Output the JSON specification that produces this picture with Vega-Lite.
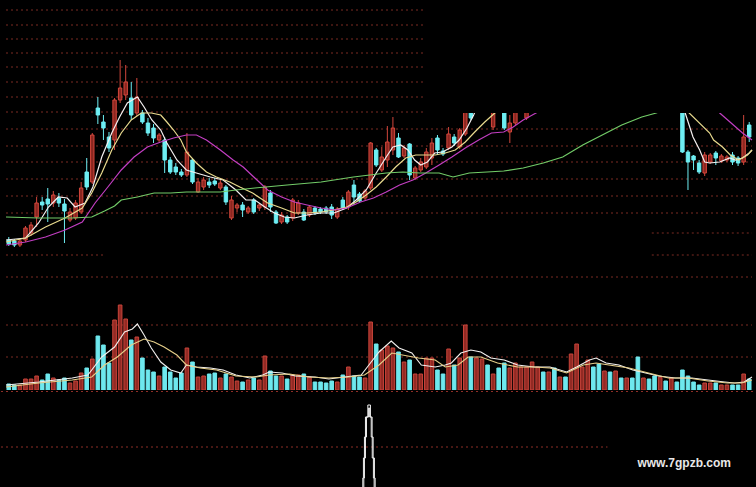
{
  "$schema": "https://vega.github.io/schema/vega-lite/v6.json",
  "background": "#000000",
  "padding": 0,
  "spacing": 0,
  "config": {"view": {"stroke": null}, "axis": {"disable": true}, "legend": {"disable": true}, "concat": {"spacing": 0}},
  "resolve": {"scale": {"x": "independent", "y": "independent", "color": "independent"}},
  "datasets": {
    "days": [
      {"t":0,"o":6.0,"h":6.3,"l":5.4,"c":5.6,"v":6},{"t":1,"o":5.9,"h":6.1,"l":5.3,"c":5.5,"v":5},{"t":2,"o":5.5,"h":6.1,"l":5.3,"c":5.9,"v":5},
      {"t":3,"o":6.0,"h":7.4,"l":5.8,"c":7.2,"v":11},{"t":4,"o":6.7,"h":7.8,"l":6.4,"c":7.5,"v":11},{"t":5,"o":8.3,"h":10.3,"l":7.3,"c":9.7,"v":14},
      {"t":6,"o":9.8,"h":10.3,"l":9.0,"c":9.5,"v":10},{"t":7,"o":10.1,"h":11.2,"l":7.8,"c":9.6,"v":16},{"t":8,"o":9.7,"h":10.9,"l":9.3,"c":10.5,"v":12},
      {"t":9,"o":10.2,"h":10.7,"l":9.3,"c":9.7,"v":10},{"t":10,"o":9.6,"h":10.1,"l":5.7,"c":8.9,"v":12},{"t":11,"o":8.0,"h":9.2,"l":7.8,"c":8.8,"v":7},
      {"t":12,"o":8.2,"h":10.0,"l":8.0,"c":9.7,"v":9},{"t":13,"o":8.8,"h":11.8,"l":8.6,"c":11.2,"v":17},{"t":14,"o":12.8,"h":14.2,"l":11.0,"c":11.3,"v":22},
      {"t":15,"o":11.8,"h":16.7,"l":11.6,"c":16.5,"v":31},{"t":16,"o":19.2,"h":20.3,"l":17.6,"c":18.5,"v":54},{"t":17,"o":17.8,"h":18.5,"l":16.0,"c":17.2,"v":45},
      {"t":18,"o":16.3,"h":16.8,"l":14.8,"c":15.2,"v":27},{"t":19,"o":16.0,"h":20.2,"l":15.0,"c":20.0,"v":70},{"t":20,"o":20.0,"h":24.0,"l":19.7,"c":21.2,"v":85},
      {"t":21,"o":20.5,"h":23.5,"l":20.0,"c":21.8,"v":71},{"t":22,"o":20.2,"h":21.8,"l":18.0,"c":18.5,"v":50},{"t":23,"o":18.7,"h":22.2,"l":18.4,"c":20.3,"v":53},
      {"t":24,"o":18.7,"h":19.0,"l":17.6,"c":17.8,"v":32},{"t":25,"o":17.7,"h":18.2,"l":16.4,"c":16.7,"v":20},{"t":26,"o":17.2,"h":17.6,"l":15.7,"c":16.2,"v":18},
      {"t":27,"o":16.0,"h":16.7,"l":15.8,"c":16.5,"v":14},{"t":28,"o":16.0,"h":16.3,"l":12.7,"c":14.0,"v":23},{"t":29,"o":14.0,"h":14.3,"l":12.6,"c":12.8,"v":18},
      {"t":30,"o":13.3,"h":13.7,"l":12.5,"c":12.8,"v":12},{"t":31,"o":12.8,"h":13.1,"l":12.3,"c":12.5,"v":17},{"t":32,"o":12.5,"h":16.7,"l":12.3,"c":14.8,"v":42},
      {"t":33,"o":14.0,"h":14.2,"l":11.6,"c":11.8,"v":28},{"t":34,"o":10.8,"h":12.2,"l":10.7,"c":11.8,"v":13},{"t":35,"o":11.3,"h":12.3,"l":11.0,"c":12.0,"v":14},
      {"t":36,"o":11.8,"h":12.2,"l":11.2,"c":11.5,"v":16},{"t":37,"o":11.9,"h":12.2,"l":11.4,"c":11.6,"v":17},{"t":38,"o":11.2,"h":12.0,"l":11.0,"c":11.7,"v":12},
      {"t":39,"o":11.3,"h":11.5,"l":9.5,"c":9.8,"v":16},{"t":40,"o":8.2,"h":10.4,"l":8.0,"c":10.0,"v":13},{"t":41,"o":9.2,"h":9.7,"l":8.8,"c":9.5,"v":9},
      {"t":42,"o":9.5,"h":9.8,"l":8.3,"c":9.0,"v":8},{"t":43,"o":8.8,"h":9.4,"l":8.6,"c":9.2,"v":10},{"t":44,"o":10.0,"h":10.2,"l":8.6,"c":8.8,"v":12},
      {"t":45,"o":9.2,"h":9.7,"l":8.9,"c":9.5,"v":10},{"t":46,"o":9.3,"h":11.5,"l":9.0,"c":11.3,"v":34},{"t":47,"o":10.7,"h":11.0,"l":8.8,"c":9.3,"v":19},
      {"t":48,"o":8.8,"h":9.0,"l":7.6,"c":7.7,"v":14},{"t":49,"o":7.8,"h":8.8,"l":7.6,"c":8.5,"v":14},{"t":50,"o":8.3,"h":8.5,"l":7.6,"c":7.8,"v":11},
      {"t":51,"o":8.2,"h":10.2,"l":7.9,"c":10.0,"v":15},{"t":52,"o":8.7,"h":10.0,"l":8.5,"c":9.7,"v":15},{"t":53,"o":8.8,"h":9.1,"l":7.9,"c":8.0,"v":16},
      {"t":54,"o":8.5,"h":9.5,"l":8.3,"c":9.3,"v":13},{"t":55,"o":9.2,"h":9.4,"l":8.5,"c":8.7,"v":8},{"t":56,"o":9.1,"h":9.3,"l":8.6,"c":8.8,"v":8},
      {"t":57,"o":9.2,"h":9.4,"l":8.6,"c":8.8,"v":7},{"t":58,"o":9.3,"h":9.6,"l":8.1,"c":8.5,"v":9},{"t":59,"o":8.3,"h":9.3,"l":8.1,"c":9.1,"v":8},
      {"t":60,"o":10.0,"h":10.3,"l":9.0,"c":9.2,"v":15},{"t":61,"o":9.3,"h":11.0,"l":9.0,"c":10.8,"v":23},{"t":62,"o":11.5,"h":12.0,"l":9.5,"c":10.3,"v":14},
      {"t":63,"o":10.6,"h":10.8,"l":9.7,"c":9.9,"v":13},{"t":64,"o":10.2,"h":11.1,"l":10.0,"c":10.9,"v":12},{"t":65,"o":11.2,"h":15.8,"l":11.0,"c":15.7,"v":68},
      {"t":66,"o":15.0,"h":15.2,"l":13.3,"c":13.5,"v":46},{"t":67,"o":13.0,"h":15.3,"l":12.8,"c":14.3,"v":40},{"t":68,"o":14.0,"h":17.4,"l":13.3,"c":15.8,"v":44},
      {"t":69,"o":15.0,"h":18.3,"l":14.5,"c":17.2,"v":42},{"t":70,"o":16.2,"h":16.7,"l":14.2,"c":14.3,"v":38},{"t":71,"o":14.4,"h":15.5,"l":14.2,"c":15.2,"v":28},
      {"t":72,"o":15.6,"h":15.7,"l":12.0,"c":12.5,"v":30},{"t":73,"o":12.2,"h":13.4,"l":12.0,"c":13.2,"v":16},{"t":74,"o":13.0,"h":14.2,"l":12.8,"c":13.8,"v":16},
      {"t":75,"o":13.3,"h":15.2,"l":13.1,"c":14.8,"v":32},{"t":76,"o":14.2,"h":16.2,"l":13.5,"c":15.7,"v":32},{"t":77,"o":16.2,"h":16.5,"l":14.5,"c":15.0,"v":20},
      {"t":78,"o":14.9,"h":15.2,"l":14.4,"c":14.6,"v":16},{"t":79,"o":15.2,"h":17.3,"l":15.0,"c":16.6,"v":41},{"t":80,"o":16.3,"h":16.6,"l":15.4,"c":15.7,"v":25},
      {"t":81,"o":15.3,"h":17.2,"l":15.1,"c":17.0,"v":32},{"t":82,"o":16.6,"h":20.2,"l":16.4,"c":19.5,"v":65},{"t":83,"o":19.5,"h":20.0,"l":18.0,"c":18.2,"v":33},
      {"t":84,"o":19.0,"h":20.8,"l":18.8,"c":20.5,"v":32},{"t":85,"o":20.0,"h":21.5,"l":19.6,"c":21.2,"v":31},{"t":86,"o":21.0,"h":21.4,"l":19.5,"c":19.8,"v":25},
      {"t":87,"o":17.3,"h":20.2,"l":17.0,"c":19.8,"v":16},{"t":88,"o":20.0,"h":20.4,"l":18.9,"c":19.2,"v":22},{"t":89,"o":19.5,"h":20.0,"l":17.0,"c":17.2,"v":27},
      {"t":90,"o":16.8,"h":18.5,"l":15.7,"c":17.7,"v":22},{"t":91,"o":17.7,"h":20.0,"l":17.5,"c":19.6,"v":27},{"t":92,"o":19.3,"h":20.6,"l":19.0,"c":20.3,"v":23},
      {"t":93,"o":18.2,"h":19.4,"l":18.0,"c":19.2,"v":23},{"t":94,"o":19.3,"h":20.5,"l":19.0,"c":20.2,"v":28},{"t":95,"o":20.0,"h":21.3,"l":19.8,"c":21.0,"v":23},
      {"t":96,"o":21.0,"h":21.3,"l":20.1,"c":20.4,"v":18},{"t":97,"o":20.5,"h":21.7,"l":20.3,"c":21.4,"v":18},{"t":98,"o":21.5,"h":21.8,"l":20.5,"c":20.8,"v":22},
      {"t":99,"o":20.9,"h":21.8,"l":20.7,"c":21.5,"v":13},{"t":100,"o":21.6,"h":21.9,"l":21.0,"c":21.2,"v":13},{"t":101,"o":21.3,"h":22.8,"l":21.1,"c":22.4,"v":36},
      {"t":102,"o":22.3,"h":24.5,"l":22.0,"c":24.0,"v":46},{"t":103,"o":23.8,"h":25.0,"l":23.5,"c":24.5,"v":23},{"t":104,"o":24.3,"h":25.8,"l":24.0,"c":25.4,"v":30},
      {"t":105,"o":25.5,"h":25.9,"l":24.2,"c":24.6,"v":23},{"t":106,"o":24.7,"h":25.0,"l":23.5,"c":23.8,"v":26},{"t":107,"o":23.9,"h":24.9,"l":23.6,"c":24.6,"v":19},
      {"t":108,"o":24.6,"h":24.9,"l":23.7,"c":24.0,"v":18},{"t":109,"o":24.0,"h":25.0,"l":23.8,"c":24.7,"v":19},{"t":110,"o":24.8,"h":25.0,"l":24.0,"c":24.2,"v":12},
      {"t":111,"o":24.2,"h":24.9,"l":24.0,"c":24.6,"v":12},{"t":112,"o":24.6,"h":24.8,"l":23.9,"c":24.1,"v":12},{"t":113,"o":24.2,"h":24.4,"l":22.8,"c":23.0,"v":33},
      {"t":114,"o":23.0,"h":23.7,"l":22.8,"c":23.4,"v":12},{"t":115,"o":23.4,"h":23.6,"l":22.7,"c":22.9,"v":11},{"t":116,"o":23.0,"h":23.2,"l":22.3,"c":22.5,"v":14},
      {"t":117,"o":22.5,"h":23.1,"l":22.3,"c":22.9,"v":13},{"t":118,"o":22.9,"h":23.1,"l":22.2,"c":22.4,"v":9},{"t":119,"o":22.4,"h":22.9,"l":22.2,"c":22.7,"v":12},
      {"t":120,"o":22.7,"h":22.9,"l":22.1,"c":22.3,"v":8},{"t":121,"o":19.0,"h":20.0,"l":14.7,"c":14.8,"v":20},{"t":122,"o":14.8,"h":15.0,"l":11.0,"c":13.8,"v":14},
      {"t":123,"o":14.4,"h":14.5,"l":13.0,"c":14.0,"v":8},{"t":124,"o":13.7,"h":14.0,"l":12.6,"c":12.8,"v":5},{"t":125,"o":12.7,"h":14.8,"l":12.4,"c":14.5,"v":7},
      {"t":126,"o":13.8,"h":14.7,"l":13.6,"c":14.5,"v":7},{"t":127,"o":14.7,"h":14.9,"l":13.5,"c":14.2,"v":7},{"t":128,"o":13.9,"h":14.6,"l":13.7,"c":14.4,"v":5},
      {"t":129,"o":14.0,"h":14.5,"l":13.8,"c":14.3,"v":5},{"t":130,"o":14.5,"h":14.8,"l":13.5,"c":13.8,"v":5},{"t":131,"o":14.2,"h":14.4,"l":13.4,"c":13.7,"v":5},
      {"t":132,"o":13.8,"h":18.5,"l":13.5,"c":16.3,"v":16},{"t":133,"o":17.5,"h":17.8,"l":15.8,"c":16.3,"v":11}
    ],
    "ma": [
      {"s":"m5","t":-0.5,"p":6.0},{"s":"m5","t":3.05,"p":6.2},{"s":"m5","t":5.35,"p":7.7},{"s":"m5","t":7.13,"p":9.3},{"s":"m5","t":8.9,"p":10.3},
      {"s":"m5","t":10.5,"p":10.2},{"s":"m5","t":11.9,"p":9.3},{"s":"m5","t":13.7,"p":9.7},{"s":"m5","t":15.1,"p":11.3},{"s":"m5","t":16.7,"p":14.3},
      {"s":"m5","t":18.5,"p":16.7},{"s":"m5","t":19.9,"p":18.3},{"s":"m5","t":21.3,"p":19.7},{"s":"m5","t":23.1,"p":20.3},{"s":"m5","t":24.3,"p":19.3},
      {"s":"m5","t":25.7,"p":18.0},{"s":"m5","t":27.3,"p":17.0},{"s":"m5","t":28.4,"p":15.7},{"s":"m5","t":30.2,"p":14.0},{"s":"m5","t":31.9,"p":13.0},
      {"s":"m5","t":33.7,"p":12.7},{"s":"m5","t":36.2,"p":12.3},{"s":"m5","t":38.5,"p":12.0},{"s":"m5","t":40.8,"p":11.0},{"s":"m5","t":42.6,"p":10.0},
      {"s":"m5","t":44.2,"p":10.0},{"s":"m5","t":46,"p":9.3},{"s":"m5","t":47.7,"p":8.7},{"s":"m5","t":49.5,"p":8.3},{"s":"m5","t":51.3,"p":8.2},
      {"s":"m5","t":53.6,"p":8.5},{"s":"m5","t":56.1,"p":8.7},{"s":"m5","t":58.4,"p":8.7},{"s":"m5","t":60.7,"p":9.2},{"s":"m5","t":62.4,"p":10.0},
      {"s":"m5","t":64.2,"p":11.0},{"s":"m5","t":66,"p":12.7},{"s":"m5","t":67.8,"p":14.3},{"s":"m5","t":69,"p":15.3},{"s":"m5","t":70.4,"p":15.5},
      {"s":"m5","t":71.7,"p":15.0},{"s":"m5","t":72.9,"p":14.0},{"s":"m5","t":74,"p":13.5},{"s":"m5","t":75.2,"p":13.8},{"s":"m5","t":76.5,"p":14.7},
      {"s":"m5","t":77.9,"p":14.8},{"s":"m5","t":79.6,"p":15.3},{"s":"m5","t":80.9,"p":16.0},{"s":"m5","t":82.3,"p":17.2},{"s":"m5","t":83.5,"p":18.5},
      {"s":"m5","t":84.6,"p":20.0},{"s":"m5","t":87,"p":21.0},{"s":"m5","t":91,"p":21.5},{"s":"m5","t":95,"p":22.5},{"s":"m5","t":100,"p":23.0},
      {"s":"m5","t":105,"p":24.5},{"s":"m5","t":110,"p":24.0},{"s":"m5","t":115,"p":23.2},{"s":"m5","t":119,"p":22.5},{"s":"m5","t":120.5,"p":21.0},
      {"s":"m5","t":121.5,"p":18.7},{"s":"m5","t":122.9,"p":16.3},{"s":"m5","t":124.1,"p":15.0},{"s":"m5","t":125.0,"p":13.8},{"s":"m5","t":125.9,"p":13.7},
      {"s":"m5","t":127.7,"p":13.8},{"s":"m5","t":129.5,"p":14.2},{"s":"m5","t":130.5,"p":14.0},{"s":"m5","t":131.8,"p":14.2},{"s":"m5","t":133.0,"p":14.7},
      {"s":"m5","t":133.5,"p":15.0},
      {"s":"m10","t":-0.5,"p":5.8},{"s":"m10","t":3.05,"p":6.2},{"s":"m10","t":6.6,"p":7.3},{"s":"m10","t":10.1,"p":8.2},{"s":"m10","t":13.2,"p":9.2},
      {"s":"m10","t":14.9,"p":10.7},{"s":"m10","t":16.7,"p":12.7},{"s":"m10","t":18.5,"p":15.0},{"s":"m10","t":20.2,"p":16.7},{"s":"m10","t":22,"p":18.0},
      {"s":"m10","t":23.8,"p":18.7},{"s":"m10","t":25.6,"p":18.7},{"s":"m10","t":27.3,"p":18.5},{"s":"m10","t":28.4,"p":17.8},{"s":"m10","t":29.6,"p":17.0},
      {"s":"m10","t":30.9,"p":16.0},{"s":"m10","t":31.9,"p":14.8},{"s":"m10","t":33.7,"p":13.7},{"s":"m10","t":35.5,"p":12.8},{"s":"m10","t":37.3,"p":12.3},
      {"s":"m10","t":39.7,"p":11.8},{"s":"m10","t":41.5,"p":11.3},{"s":"m10","t":43.8,"p":10.7},{"s":"m10","t":46.5,"p":9.7},{"s":"m10","t":49,"p":9.2},
      {"s":"m10","t":51.3,"p":8.7},{"s":"m10","t":53.6,"p":8.7},{"s":"m10","t":56.1,"p":8.8},{"s":"m10","t":58.4,"p":9.0},{"s":"m10","t":60.7,"p":9.3},
      {"s":"m10","t":62.4,"p":9.8},{"s":"m10","t":64.2,"p":10.5},{"s":"m10","t":66,"p":11.3},{"s":"m10","t":67.8,"p":12.3},{"s":"m10","t":69.5,"p":13.3},
      {"s":"m10","t":71.3,"p":14.2},{"s":"m10","t":73.1,"p":14.5},{"s":"m10","t":74.9,"p":14.5},{"s":"m10","t":76.6,"p":14.5},{"s":"m10","t":78.4,"p":14.7},
      {"s":"m10","t":80.2,"p":15.0},{"s":"m10","t":82,"p":15.8},{"s":"m10","t":83.7,"p":16.8},{"s":"m10","t":85.5,"p":17.8},{"s":"m10","t":87.3,"p":18.7},
      {"s":"m10","t":89,"p":20.0},{"s":"m10","t":95,"p":21.5},{"s":"m10","t":100,"p":22.5},{"s":"m10","t":110,"p":23.5},{"s":"m10","t":118,"p":22.5},
      {"s":"m10","t":121,"p":21.0},{"s":"m10","t":122.2,"p":18.7},{"s":"m10","t":125.9,"p":16.7},{"s":"m10","t":126.6,"p":16.0},{"s":"m10","t":128.2,"p":15.3},
      {"s":"m10","t":129.6,"p":14.5},{"s":"m10","t":131.1,"p":14.0},{"s":"m10","t":132.7,"p":14.5},{"s":"m10","t":133.5,"p":15.0},
      {"s":"m20","t":-0.5,"p":5.5},{"s":"m20","t":3.05,"p":5.8},{"s":"m20","t":6.6,"p":6.3},{"s":"m20","t":10.1,"p":7.0},{"s":"m20","t":13.2,"p":7.8},
      {"s":"m20","t":15.5,"p":9.7},{"s":"m20","t":17.8,"p":11.3},{"s":"m20","t":20.2,"p":13.0},{"s":"m20","t":22.5,"p":14.3},{"s":"m20","t":24.9,"p":15.3},
      {"s":"m20","t":27.3,"p":15.8},{"s":"m20","t":29.6,"p":16.2},{"s":"m20","t":31.9,"p":16.5},{"s":"m20","t":33.7,"p":16.5},{"s":"m20","t":35.5,"p":16.0},
      {"s":"m20","t":38,"p":15.0},{"s":"m20","t":40.3,"p":14.0},{"s":"m20","t":42.1,"p":13.3},{"s":"m20","t":44.2,"p":12.2},{"s":"m20","t":46.5,"p":11.0},
      {"s":"m20","t":49,"p":10.3},{"s":"m20","t":51.3,"p":9.8},{"s":"m20","t":53.6,"p":9.5},{"s":"m20","t":56.1,"p":9.2},{"s":"m20","t":58.4,"p":9.0},
      {"s":"m20","t":60.7,"p":9.2},{"s":"m20","t":63.2,"p":9.8},{"s":"m20","t":65.5,"p":10.2},{"s":"m20","t":67.8,"p":10.8},{"s":"m20","t":70.2,"p":11.5},
      {"s":"m20","t":72.6,"p":12.0},{"s":"m20","t":74.9,"p":12.7},{"s":"m20","t":77.3,"p":13.5},{"s":"m20","t":79.6,"p":14.3},{"s":"m20","t":82,"p":15.2},
      {"s":"m20","t":84.4,"p":16.0},{"s":"m20","t":86.7,"p":16.7},{"s":"m20","t":88.9,"p":16.8},{"s":"m20","t":90.6,"p":17.3},{"s":"m20","t":92.4,"p":18.0},
      {"s":"m20","t":94.7,"p":18.7},{"s":"m20","t":100,"p":20.0},{"s":"m20","t":110,"p":21.5},{"s":"m20","t":120,"p":21.5},{"s":"m20","t":125,"p":20.0},
      {"s":"m20","t":127.7,"p":18.7},{"s":"m20","t":131.8,"p":16.7},{"s":"m20","t":133.5,"p":16.0},
      {"s":"m60","t":-0.5,"p":8.3},{"s":"m60","t":5.35,"p":8.2},{"s":"m60","t":11.4,"p":8.2},{"s":"m60","t":14.9,"p":8.3},{"s":"m60","t":17.2,"p":8.9},
      {"s":"m60","t":19,"p":9.4},{"s":"m60","t":20.2,"p":10.0},{"s":"m60","t":23.1,"p":10.3},{"s":"m60","t":26.1,"p":10.7},{"s":"m60","t":29.1,"p":10.7},
      {"s":"m60","t":31.9,"p":10.8},{"s":"m60","t":35,"p":10.8},{"s":"m60","t":38,"p":10.8},{"s":"m60","t":40.8,"p":11.0},{"s":"m60","t":44.2,"p":11.2},
      {"s":"m60","t":50,"p":11.5},{"s":"m60","t":56.1,"p":11.8},{"s":"m60","t":61.9,"p":12.3},{"s":"m60","t":67.8,"p":12.7},{"s":"m60","t":70.8,"p":12.8},
      {"s":"m60","t":73.8,"p":12.7},{"s":"m60","t":77.3,"p":12.7},{"s":"m60","t":79.8,"p":12.3},{"s":"m60","t":82.7,"p":12.7},{"s":"m60","t":85.9,"p":12.8},
      {"s":"m60","t":88.9,"p":12.9},{"s":"m60","t":92.4,"p":13.2},{"s":"m60","t":96,"p":13.7},{"s":"m60","t":99.5,"p":14.3},{"s":"m60","t":103.1,"p":15.5},
      {"s":"m60","t":106.6,"p":16.5},{"s":"m60","t":110.1,"p":17.5},{"s":"m60","t":113.7,"p":18.3},{"s":"m60","t":116.3,"p":18.7},{"s":"m60","t":120.1,"p":19.5},
      {"s":"m60","t":133.5,"p":20.5}
    ],
    "vma": [
      {"s":"v5","t":-0.5,"v":5},{"s":"v5","t":5.4,"v":8},{"s":"v5","t":11.4,"v":12},{"s":"v5","t":14.2,"v":15},{"s":"v5","t":16.7,"v":33},
      {"s":"v5","t":19,"v":43},{"s":"v5","t":20.8,"v":58},{"s":"v5","t":22.2,"v":61},{"s":"v5","t":23.1,"v":66},{"s":"v5","t":24.3,"v":55},
      {"s":"v5","t":25.6,"v":42},{"s":"v5","t":27.3,"v":28},{"s":"v5","t":29.1,"v":20},{"s":"v5","t":30.9,"v":17},{"s":"v5","t":31.9,"v":25},
      {"s":"v5","t":33.7,"v":23},{"s":"v5","t":36.2,"v":22},{"s":"v5","t":38.5,"v":20},{"s":"v5","t":40.8,"v":15},{"s":"v5","t":43.3,"v":12},
      {"s":"v5","t":45.6,"v":15},{"s":"v5","t":46.8,"v":18},{"s":"v5","t":49.1,"v":17},{"s":"v5","t":51.5,"v":14},{"s":"v5","t":55,"v":13},
      {"s":"v5","t":57.5,"v":11},{"s":"v5","t":60.3,"v":13},{"s":"v5","t":63.3,"v":15},{"s":"v5","t":65.1,"v":28},{"s":"v5","t":66.5,"v":38},
      {"s":"v5","t":68.7,"v":49},{"s":"v5","t":70.1,"v":42},{"s":"v5","t":72.4,"v":37},{"s":"v5","t":74.1,"v":25},{"s":"v5","t":76.6,"v":23},
      {"s":"v5","t":78.4,"v":25},{"s":"v5","t":79.5,"v":27},{"s":"v5","t":81.2,"v":37},{"s":"v5","t":83,"v":40},{"s":"v5","t":84.8,"v":38},
      {"s":"v5","t":86.6,"v":32},{"s":"v5","t":89,"v":30},{"s":"v5","t":91.4,"v":25},{"s":"v5","t":94.4,"v":23},{"s":"v5","t":97.2,"v":23},
      {"s":"v5","t":100.2,"v":18},{"s":"v5","t":102,"v":23},{"s":"v5","t":104.3,"v":30},{"s":"v5","t":105.5,"v":32},{"s":"v5","t":107.3,"v":27},
      {"s":"v5","t":109.6,"v":25},{"s":"v5","t":112.1,"v":20},{"s":"v5","t":114.4,"v":17},{"s":"v5","t":116.7,"v":14},{"s":"v5","t":119.7,"v":12},
      {"s":"v5","t":122.7,"v":12},{"s":"v5","t":125.6,"v":10},{"s":"v5","t":128.6,"v":8},{"s":"v5","t":130.4,"v":7},{"s":"v5","t":132.1,"v":8},
      {"s":"v5","t":133.5,"v":13},
      {"s":"v10","t":-0.5,"v":3},{"s":"v10","t":5.4,"v":7},{"s":"v10","t":11.4,"v":10},{"s":"v10","t":14.9,"v":13},{"s":"v10","t":17.2,"v":25},
      {"s":"v10","t":19.5,"v":33},{"s":"v10","t":22,"v":45},{"s":"v10","t":24.3,"v":51},{"s":"v10","t":26.1,"v":48},{"s":"v10","t":27.9,"v":43},
      {"s":"v10","t":30.2,"v":35},{"s":"v10","t":31.9,"v":25},{"s":"v10","t":34.4,"v":22},{"s":"v10","t":37.3,"v":20},{"s":"v10","t":40.8,"v":14},
      {"s":"v10","t":44.4,"v":13},{"s":"v10","t":46.8,"v":15},{"s":"v10","t":50.4,"v":16},{"s":"v10","t":53.9,"v":13},{"s":"v10","t":57.5,"v":12},
      {"s":"v10","t":61,"v":13},{"s":"v10","t":63.9,"v":15},{"s":"v10","t":66.5,"v":25},{"s":"v10","t":68.8,"v":37},{"s":"v10","t":73.6,"v":32},
      {"s":"v10","t":76.6,"v":30},{"s":"v10","t":78.4,"v":23},{"s":"v10","t":80.7,"v":25},{"s":"v10","t":82.5,"v":33},{"s":"v10","t":84.8,"v":33},
      {"s":"v10","t":87.8,"v":27},{"s":"v10","t":91.4,"v":23},{"s":"v10","t":94.4,"v":23},{"s":"v10","t":97.2,"v":22},{"s":"v10","t":100.2,"v":17},
      {"s":"v10","t":103.2,"v":25},{"s":"v10","t":105.5,"v":27},{"s":"v10","t":107.8,"v":25},{"s":"v10","t":111.4,"v":22},{"s":"v10","t":114.9,"v":17},
      {"s":"v10","t":118.5,"v":12},{"s":"v10","t":122,"v":12},{"s":"v10","t":125.6,"v":9},{"s":"v10","t":129.1,"v":7},{"s":"v10","t":131.6,"v":7},
      {"s":"v10","t":133.5,"v":10}
    ],
    "grid": [
      {"p":29.0,"t0":-0.5,"t1":74.86},{"p":27.5,"t0":-0.5,"t1":74.86},{"p":26.1,"t0":-0.5,"t1":74.86},{"p":24.7,"t0":-0.5,"t1":74.86},
      {"p":23.3,"t0":-0.5,"t1":74.86},{"p":21.8,"t0":-0.5,"t1":74.86},{"p":20.3,"t0":-0.5,"t1":74.86},{"p":18.8,"t0":-0.5,"t1":74.86},
      {"p":17.1,"t0":-0.5,"t1":133.5},{"p":15.4,"t0":-0.5,"t1":133.5},{"p":13.8,"t0":-0.5,"t1":133.5},{"p":12.1,"t0":-0.5,"t1":133.5},
      {"p":10.4,"t0":-0.5,"t1":133.5},{"p":8.7,"t0":-0.5,"t1":133.5},{"p":6.7,"t0":115.5,"t1":133.5},
      {"p":4.5,"t0":-0.5,"t1":17.2},{"p":4.5,"t0":115.5,"t1":133.5},{"p":2.3,"t0":-0.5,"t1":133.5}
    ],
    "vgrid": [
      {"v":65,"t0":-0.5,"t1":133.5},{"v":33,"t0":-0.5,"t1":133.5}
    ],
    "bgrid": [
      {"v":95.5,"t0":-0.5,"t1":133.5},{"v":40,"t0":-0.5,"t1":107}
    ],
    "mask": [
      {"t0":74.86,"t1":133.5,"p0":18.7,"p1":30}
    ],
    "spike": [
      {"s":"a","k":0,"t":63.63,"v":0},{"s":"a","k":1,"t":63.63,"v":9},{"s":"a","k":2,"t":63.74,"v":9},{"s":"a","k":3,"t":63.74,"v":29},
      {"s":"a","k":4,"t":63.92,"v":29},{"s":"a","k":5,"t":63.92,"v":50},{"s":"a","k":6,"t":64.10,"v":50},{"s":"a","k":7,"t":64.10,"v":70},
      {"s":"a","k":8,"t":64.52,"v":70},{"s":"a","k":9,"t":64.52,"v":82},{"s":"a","k":10,"t":64.98,"v":82},{"s":"a","k":11,"t":64.98,"v":70},
      {"s":"a","k":12,"t":65.28,"v":70},{"s":"a","k":13,"t":65.28,"v":50},{"s":"a","k":14,"t":65.46,"v":50},{"s":"a","k":15,"t":65.46,"v":29},
      {"s":"a","k":16,"t":65.69,"v":29},{"s":"a","k":17,"t":65.69,"v":9},{"s":"a","k":18,"t":65.82,"v":9},{"s":"a","k":19,"t":65.82,"v":0},
      {"s":"b","k":0,"t":63.81,"v":0},{"s":"b","k":1,"t":63.81,"v":9},{"s":"b","k":2,"t":63.92,"v":9},{"s":"b","k":3,"t":63.92,"v":29},
      {"s":"b","k":4,"t":64.10,"v":29},{"s":"b","k":5,"t":64.10,"v":50},{"s":"b","k":6,"t":64.28,"v":50},{"s":"b","k":7,"t":64.28,"v":70},
      {"s":"b","k":8,"t":64.66,"v":70},{"s":"b","k":9,"t":64.66,"v":79},{"s":"b","k":10,"t":64.84,"v":79},{"s":"b","k":11,"t":64.84,"v":70},
      {"s":"b","k":12,"t":65.12,"v":70},{"s":"b","k":13,"t":65.12,"v":50},{"s":"b","k":14,"t":65.30,"v":50},{"s":"b","k":15,"t":65.30,"v":29},
      {"s":"b","k":16,"t":65.51,"v":29},{"s":"b","k":17,"t":65.51,"v":9},{"s":"b","k":18,"t":65.64,"v":9},{"s":"b","k":19,"t":65.64,"v":0}
    ]
  },
  "vconcat": [
    {
      "width": 756,
      "height": 290,
      "layer": [
        {
          "data": {"name": "grid"},
          "mark": {"type": "rule", "color": "#7a2a22", "strokeDash": [2, 3], "strokeWidth": 1},
          "encoding": {
            "x": {"field": "t0", "type": "quantitative", "scale": {"domain": [-0.5, 133.5], "nice": false, "zero": false}, "axis": null},
            "x2": {"field": "t1"},
            "y": {"field": "p", "type": "quantitative", "scale": {"domain": [1, 30], "nice": false, "zero": false}, "axis": null}
          }
        },
        {
          "data": {"name": "days"},
          "mark": {"type": "rule", "strokeWidth": 1, "clip": true},
          "encoding": {
            "x": {"field": "t", "type": "quantitative"},
            "y": {"field": "l", "type": "quantitative"},
            "y2": {"field": "h"},
            "color": {"condition": {"test": "datum.c >= datum.o", "value": "#d0463c"}, "value": "#6eeef3"}
          }
        },
        {
          "data": {"name": "days"},
          "mark": {"type": "bar", "orient": "vertical", "width": 3.4, "strokeWidth": 1, "clip": true},
          "encoding": {
            "x": {"field": "t", "type": "quantitative"},
            "y": {"field": "o", "type": "quantitative"},
            "y2": {"field": "c"},
            "fill": {"condition": {"test": "datum.c >= datum.o", "value": "#8a2620"}, "value": "#6eeef3"},
            "stroke": {"condition": {"test": "datum.c >= datum.o", "value": "#d4473c"}, "value": "#6eeef3"}
          }
        },
        {
          "data": {"name": "ma"},
          "mark": {"type": "line", "strokeWidth": 1.2, "clip": true},
          "encoding": {
            "x": {"field": "t", "type": "quantitative"},
            "y": {"field": "p", "type": "quantitative"},
            "color": {"field": "s", "type": "nominal", "scale": {"domain": ["m5", "m10", "m20", "m60"], "range": ["#f4f0f0", "#e8da8e", "#c23ec2", "#72cc68"]}, "legend": null}
          }
        },
        {
          "data": {"name": "mask"},
          "mark": {"type": "rect", "color": "#000000", "clip": true},
          "encoding": {
            "x": {"field": "t0", "type": "quantitative"},
            "x2": {"field": "t1"},
            "y": {"field": "p0", "type": "quantitative"},
            "y2": {"field": "p1"}
          }
        }
      ]
    },
    {
      "width": 756,
      "height": 100,
      "layer": [
        {
          "data": {"name": "vgrid"},
          "mark": {"type": "rule", "color": "#7a2a22", "strokeDash": [2, 3], "strokeWidth": 1},
          "encoding": {
            "x": {"field": "t0", "type": "quantitative", "scale": {"domain": [-0.5, 133.5], "nice": false, "zero": false}, "axis": null},
            "x2": {"field": "t1"},
            "y": {"field": "v", "type": "quantitative", "scale": {"domain": [0, 100], "nice": false}, "axis": null}
          }
        },
        {
          "mark": {"type": "rule", "color": "#a02c24", "strokeWidth": 1.5},
          "encoding": {"y": {"datum": 100, "type": "quantitative"}}
        },
        {
          "data": {"name": "days"},
          "mark": {"type": "bar", "orient": "vertical", "width": 3.6, "strokeWidth": 1, "clip": true},
          "encoding": {
            "x": {"field": "t", "type": "quantitative"},
            "y": {"field": "v", "type": "quantitative"},
            "y2": {"datum": 0},
            "fill": {"condition": {"test": "datum.c >= datum.o", "value": "#932a24"}, "value": "#6ee8ee"},
            "stroke": {"condition": {"test": "datum.c >= datum.o", "value": "#c8443a"}, "value": "#6ee8ee"}
          }
        },
        {
          "data": {"name": "vma"},
          "mark": {"type": "line", "strokeWidth": 1.1, "clip": true},
          "encoding": {
            "x": {"field": "t", "type": "quantitative"},
            "y": {"field": "v", "type": "quantitative"},
            "color": {"field": "s", "type": "nominal", "scale": {"domain": ["v5", "v10"], "range": ["#f2f0ee", "#e6cf8a"]}, "legend": null}
          }
        }
      ]
    },
    {
      "width": 756,
      "height": 97,
      "layer": [
        {
          "data": {"name": "bgrid"},
          "mark": {"type": "rule", "color": "#8e2e26", "strokeDash": [2, 3], "strokeWidth": 1},
          "encoding": {
            "x": {"field": "t0", "type": "quantitative", "scale": {"domain": [-0.5, 133.5], "nice": false, "zero": false}, "axis": null},
            "x2": {"field": "t1"},
            "y": {"field": "v", "type": "quantitative", "scale": {"domain": [0, 97], "nice": false}, "axis": null}
          }
        },
        {
          "data": {"name": "spike"},
          "mark": {"type": "line", "color": "#f0f0f0", "strokeWidth": 1, "clip": true},
          "encoding": {
            "x": {"field": "t", "type": "quantitative"},
            "y": {"field": "v", "type": "quantitative"},
            "detail": {"field": "s"},
            "order": {"field": "k", "type": "quantitative"}
          }
        },
        {
          "data": {"values": [{"t": 120.6, "v": 24, "label": "www.7gpzb.com"}]},
          "mark": {"type": "text", "font": "Liberation Sans", "fontSize": 12, "fontWeight": "bold", "color": "#e8e8e8", "align": "center", "baseline": "middle"},
          "encoding": {
            "x": {"field": "t", "type": "quantitative"},
            "y": {"field": "v", "type": "quantitative"},
            "text": {"field": "label"}
          }
        }
      ]
    }
  ]
}
